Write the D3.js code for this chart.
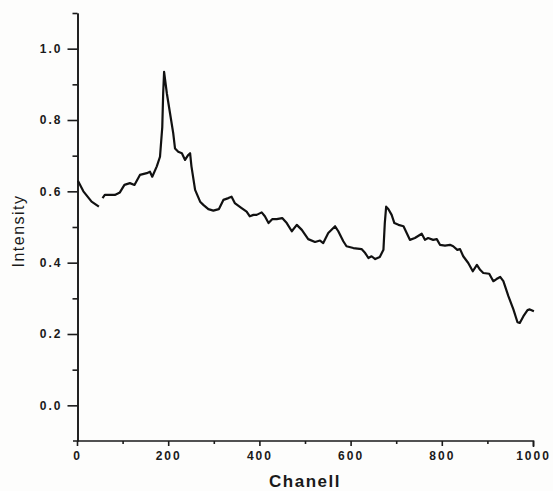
<!DOCTYPE html>
<html>
<head>
<meta charset="utf-8">
<script src="https://cdn.jsdelivr.net/npm/d3@7"></script>
<style>
  body { margin: 0; background: #fdfdfc; }
  svg { display: block; }
  .axis text { font-family: "Liberation Sans", Arial, sans-serif; font-weight: bold; font-size: 12px; fill: #1a1a1a; letter-spacing: 2px; }
  .axis path, .axis line { stroke: #1a1a1a; stroke-width: 1.6px; }
</style>
</head>
<body>
<div id="chart"></div>
<script>
// spectrum, channel -> intensity (null = break in the trace)
var channel = [2, 14, 32, 48, 52, 56, 61, 83, 94, 104, 116, 126, 138, 153, 160, 165, 175, 182, 187, 189, 191, 197, 204, 211, 215, 222, 230, 237, 244, 248, 251, 259, 270, 277, 288, 299, 311, 321, 332, 339, 346, 361, 372, 379, 387, 394, 405, 412, 420, 428, 438, 450, 460, 471, 482, 493, 507, 522, 533, 540, 551, 566, 573, 584, 591, 606, 624, 632, 639, 646, 654, 664, 672, 675, 678, 683, 690, 696, 705, 716, 723, 730, 741, 756, 763, 770, 781, 789, 796, 807, 818, 825, 834, 840, 847, 858, 868, 877, 884, 891, 904, 913, 920, 928, 935, 946, 957, 966, 971, 979, 988, 993, 1002];
var intensity = [0.63, 0.60, 0.571, 0.557, null, 0.581, 0.59, 0.59, 0.597, 0.618, 0.623, 0.618, 0.646, 0.651, 0.655, 0.641, 0.67, 0.697, 0.78, 0.875, 0.935, 0.875, 0.819, 0.763, 0.72, 0.711, 0.707, 0.688, 0.702, 0.707, 0.67, 0.604, 0.571, 0.562, 0.55, 0.546, 0.55, 0.576, 0.581, 0.585, 0.567, 0.553, 0.543, 0.53, 0.534, 0.534, 0.541, 0.53, 0.511, 0.522, 0.522, 0.525, 0.511, 0.488, 0.506, 0.492, 0.466, 0.458, 0.462, 0.455, 0.483, 0.502, 0.488, 0.46, 0.446, 0.441, 0.438, 0.427, 0.413, 0.418, 0.41, 0.416, 0.436, 0.511, 0.557, 0.55, 0.534, 0.511, 0.506, 0.502, 0.483, 0.464, 0.469, 0.481, 0.464, 0.469, 0.464, 0.466, 0.45, 0.448, 0.45, 0.446, 0.436, 0.438, 0.418, 0.399, 0.376, 0.394, 0.38, 0.371, 0.369, 0.348, 0.354, 0.36, 0.348, 0.306, 0.269, 0.233, 0.231, 0.25, 0.267, 0.269, 0.264];

var xMajor = [0, 200, 400, 600, 800, 1000];
var xMinor = [100, 300, 500, 700, 900];
var yMajor = [0, 0.2, 0.4, 0.6, 0.8, 1.0];
var yMinor = [0.1, 0.3, 0.5, 0.7, 0.9, 1.1];

var w = 553, h = 491;

var svg = d3.select("#chart").append("svg")
  .attr("width", w)
  .attr("height", h);

var xScale = d3.scaleLinear().domain([0, 1000]).range([77, 533]);
var yScale = d3.scaleLinear().domain([-0.1, 1.1]).range([441, 13]);

// y axis, major + minor ticks
svg.append("g").attr("class", "axis")
  .attr("transform", "translate(77.5,0)")
  .call(d3.axisLeft(yScale).tickValues(yMajor).tickSize(10).tickSizeOuter(0).tickPadding(5).tickFormat(d3.format(".1f")));
svg.append("g").attr("class", "axis")
  .attr("transform", "translate(77.5,0)")
  .call(d3.axisLeft(yScale).tickValues(yMinor).tickSize(5).tickSizeOuter(0).tickFormat(""));

// x axis
var xg = svg.append("g").attr("class", "axis")
  .attr("transform", "translate(0,441)")
  .call(d3.axisBottom(xScale).tickValues(xMajor).tickSize(5).tickSizeOuter(0).tickPadding(5).tickFormat(d3.format("d")));
xg.select(".domain").attr("d", "M73,0H533.5V6");
svg.append("g").attr("class", "axis")
  .attr("transform", "translate(0,441)")
  .call(d3.axisBottom(xScale).tickValues(xMinor).tickSize(3).tickSizeOuter(0).tickFormat(""))
  .select(".domain").remove();

// axis titles
svg.append("text")
  .attr("x", 305)
  .attr("y", 487)
  .attr("text-anchor", "middle")
  .style("font-family", "Liberation Sans, Arial, sans-serif")
  .style("font-weight", "bold")
  .style("font-size", "17px")
  .style("letter-spacing", "1.5px")
  .style("fill", "#1a1a1a")
  .text("Chanell");

svg.append("text")
  .attr("transform", "translate(24,231) rotate(-90)")
  .attr("text-anchor", "middle")
  .style("font-family", "Liberation Sans, Arial, sans-serif")
  .style("font-size", "16px")
  .style("letter-spacing", "1.5px")
  .style("fill", "#1a1a1a")
  .text("Intensity");

// the spectrum
var pts = channel.map(function (c, i) { return [c, intensity[i]]; });

var line = d3.line()
  .defined(function (d) { return d[1] != null; })
  .x(function (d) { return xScale(d[0]); })
  .y(function (d) { return yScale(d[1]); });

svg.append("path")
  .datum(pts)
  .attr("d", line)
  .attr("fill", "none")
  .attr("stroke", "#111")
  .attr("stroke-width", 2.2)
  .attr("stroke-linejoin", "round");
</script>
</body>
</html>
